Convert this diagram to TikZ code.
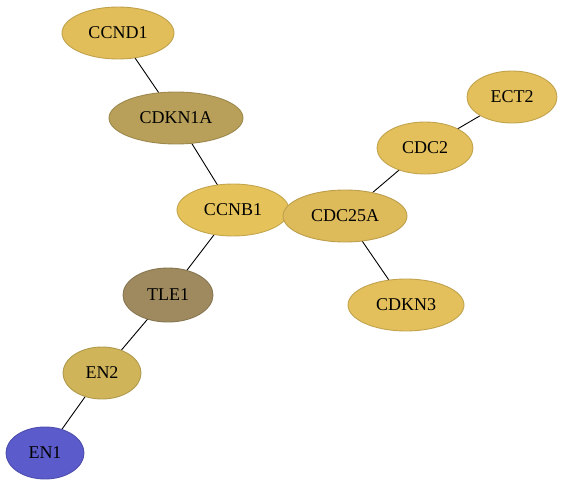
\documentclass[tikz,border=0pt]{standalone}
\usepackage{fontspec}
\setmainfont{Liberation Serif}
\usetikzlibrary{shapes.geometric,backgrounds}
\begin{document}
\begin{tikzpicture}[x=1pt,y=-1pt,
  gene/.style={ellipse,draw=#1!85!black,line width=0.9pt,fill=#1,inner sep=0pt,font=\fontsize{18}{20}\selectfont},
  edge/.style={draw=black,line width=0.9pt}]
\definecolor{cA}{HTML}{E2BE5A}
\definecolor{cB}{HTML}{B8A05A}
\definecolor{cC}{HTML}{E6C25A}
\definecolor{cD}{HTML}{DDBA5A}
\definecolor{cE}{HTML}{E3C05C}
\definecolor{cT}{HTML}{9E8A5E}
\definecolor{cN}{HTML}{CFB45A}
\definecolor{cU}{HTML}{5B5BCC}
\useasboundingbox (0,0) rectangle (564,487);
\node[gene=cA,minimum width=112pt,minimum height=52pt] (ccnd1) at (118,33) {CCND1};
\node[gene=cB,minimum width=134pt,minimum height=52pt] (cdkn1a) at (176,118) {CDKN1A};
\node[gene=cC,minimum width=112pt,minimum height=52pt] (ccnb1) at (233,210) {CCNB1};
\node[gene=cD,minimum width=124pt,minimum height=52pt] (cdc25a) at (345,216) {CDC25A};
\node[gene=cE,minimum width=96pt,minimum height=52pt] (cdc2) at (425,148) {CDC2};
\node[gene=cE,minimum width=90pt,minimum height=52pt] (ect2) at (512,97) {ECT2};
\node[gene=cE,minimum width=116pt,minimum height=52pt] (cdkn3) at (406,305) {CDKN3};
\node[gene=cT,minimum width=90pt,minimum height=54pt] (tle1) at (168,295) {TLE1};
\node[gene=cN,minimum width=78pt,minimum height=52pt] (en2) at (102,373) {EN2};
\node[gene=cU,minimum width=78pt,minimum height=52pt] (en1) at (45,453) {EN1};
\begin{pgfonlayer}{background}
\draw[edge] (ccnd1.center) -- (cdkn1a.center);
\draw[edge] (cdkn1a.center) -- (ccnb1.center);
\draw[edge] (ccnb1.center) -- (tle1.center);
\draw[edge] (tle1.center) -- (en2.center);
\draw[edge] (en2.center) -- (en1.center);
\draw[edge] (cdc25a.center) -- (cdc2.center);
\draw[edge] (cdc2.center) -- (ect2.center);
\draw[edge] (cdc25a.center) -- (cdkn3.center);
\end{pgfonlayer}
\end{tikzpicture}
\end{document}
